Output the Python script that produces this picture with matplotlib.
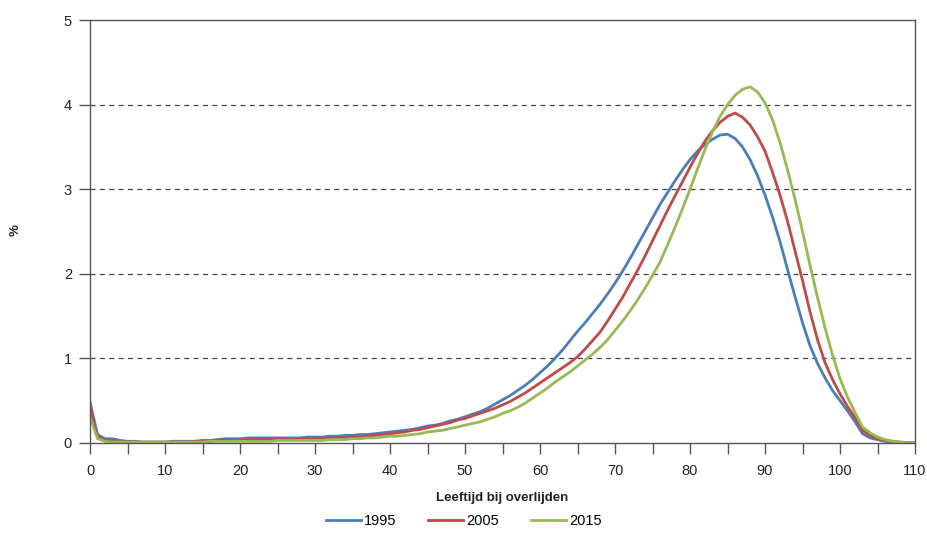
import numpy as np
import matplotlib.pyplot as plt

# Leeftijd bij overlijden, 0 t/m 110 jaar
ages = list(range(0, 111))

y1995 = [0.48, 0.10, 0.05, 0.05, 0.03, 0.02, 0.02, 0.01, 0.01, 0.01,
         0.01, 0.02, 0.02, 0.02, 0.02, 0.03, 0.03, 0.04, 0.05, 0.05,
         0.05, 0.06, 0.06, 0.06, 0.06, 0.06, 0.06, 0.06, 0.06, 0.07,
         0.07, 0.07, 0.08, 0.08, 0.09, 0.09, 0.10, 0.10, 0.11, 0.12,
         0.13, 0.14, 0.15, 0.16, 0.18, 0.20, 0.21, 0.23, 0.26, 0.28,
         0.31, 0.34, 0.37, 0.41, 0.46, 0.51, 0.56, 0.62, 0.68, 0.75,
         0.83, 0.91, 1.00, 1.10, 1.21, 1.32, 1.42, 1.53, 1.64, 1.76,
         1.89, 2.03, 2.18, 2.34, 2.50, 2.66, 2.82, 2.96, 3.10, 3.23,
         3.35, 3.45, 3.53, 3.59, 3.64, 3.65, 3.60, 3.50, 3.35, 3.16,
         2.93, 2.67, 2.38, 2.05, 1.73, 1.42, 1.15, 0.94, 0.77, 0.62,
         0.50, 0.38, 0.25, 0.11, 0.06, 0.04, 0.02, 0.01, 0.005, 0.003,
         0.0]

y2005 = [0.42, 0.07, 0.03, 0.02, 0.02, 0.01, 0.01, 0.01, 0.01, 0.01,
         0.01, 0.01, 0.01, 0.01, 0.02, 0.02, 0.02, 0.03, 0.03, 0.03,
         0.04, 0.04, 0.04, 0.04, 0.04, 0.04, 0.04, 0.04, 0.05, 0.05,
         0.05, 0.05, 0.06, 0.06, 0.06, 0.07, 0.07, 0.08, 0.09, 0.10,
         0.11, 0.12, 0.13, 0.15, 0.16, 0.18, 0.20, 0.22, 0.24, 0.27,
         0.29, 0.32, 0.35, 0.38, 0.41, 0.45, 0.49, 0.54, 0.59, 0.65,
         0.71, 0.77, 0.83, 0.89, 0.95, 1.02, 1.11, 1.21, 1.31, 1.44,
         1.58, 1.72, 1.88, 2.04, 2.21, 2.39, 2.57, 2.75, 2.92, 3.09,
         3.26, 3.42, 3.57, 3.69, 3.79, 3.86, 3.90, 3.85, 3.76, 3.62,
         3.45, 3.20, 2.93, 2.62, 2.27, 1.92, 1.55, 1.22, 0.95, 0.75,
         0.58, 0.43, 0.30, 0.15, 0.09, 0.05, 0.03, 0.02, 0.01, 0.005,
         0.0]

y2015 = [0.31, 0.05, 0.02, 0.01, 0.01, 0.01, 0.01, 0.01, 0.01, 0.01,
         0.01, 0.01, 0.01, 0.01, 0.01, 0.01, 0.02, 0.02, 0.02, 0.02,
         0.02, 0.02, 0.02, 0.02, 0.02, 0.03, 0.03, 0.03, 0.03, 0.03,
         0.03, 0.03, 0.04, 0.04, 0.04, 0.05, 0.05, 0.06, 0.06, 0.07,
         0.08, 0.08, 0.09, 0.10, 0.11, 0.13, 0.14, 0.15, 0.17, 0.19,
         0.21, 0.23, 0.25, 0.28, 0.31, 0.35, 0.38, 0.42, 0.47, 0.53,
         0.59, 0.65, 0.72, 0.78, 0.84, 0.91, 0.98, 1.05, 1.13, 1.22,
         1.33, 1.44, 1.56, 1.69, 1.83, 1.98, 2.14, 2.34, 2.55, 2.77,
         3.00, 3.24, 3.47, 3.68, 3.86, 4.00, 4.11, 4.18, 4.21, 4.15,
         4.02, 3.82, 3.55, 3.23, 2.88, 2.50, 2.10, 1.72, 1.36, 1.04,
         0.76, 0.54, 0.36, 0.19, 0.12, 0.07, 0.04, 0.02, 0.01, 0.005,
         0.0]

series = [("1995", y1995, "#4a7ebb"),
          ("2005", y2005, "#be4b48"),
          ("2015", y2015, "#98b954")]

plt.rcParams['font.family'] = ['Liberation Sans', 'DejaVu Sans']
fig = plt.figure(figsize=(9.27, 5.35), dpi=100)
ax = fig.add_axes([0.0971, 0.172, 0.890, 0.7906])

for label, vals, col in series:
    ax.plot(ages, vals, color=col, lw=2.0, label=label, solid_joinstyle='round')

ax.set_xlim(0, 110)
ax.set_ylim(0, 5)
ax.set_xticks(np.arange(0, 111, 5))
ax.set_xticklabels([str(v) if v % 10 == 0 else "" for v in range(0, 111, 5)])
ax.set_yticks([0, 1, 2, 3, 4, 5])

for v in [1, 2, 3, 4]:
    ax.axhline(v, color="#444444", lw=0.9, ls=(0, (4, 3.5)), zorder=0)

for s in ax.spines.values():
    s.set_color("#555555")
    s.set_linewidth(1.0)

ax.tick_params(axis='both', direction='out', length=8, width=1.0,
               color="#555555", labelsize=10.5, labelcolor="#222222", pad=5)
ax.tick_params(axis='x', pad=7)

ax.set_xlabel("Leeftijd bij overlijden", fontsize=9.5, fontweight='bold',
              color="#222222", labelpad=10)
fig.text(0.017, 0.57, "%", fontsize=9.5, fontweight='bold', rotation=90,
         ha='center', va='center', color="#222222")

fig.legend(loc='lower center', bbox_to_anchor=(0.5, -0.012), ncol=3, frameon=False,
           fontsize=10.5, handlelength=2.4, handletextpad=0.2, columnspacing=2.2)

fig.savefig("out.png", dpi=100)
